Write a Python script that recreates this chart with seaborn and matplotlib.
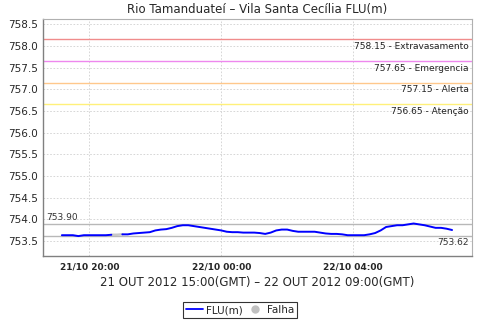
import matplotlib
matplotlib.use("Agg")
import matplotlib.pyplot as plt
import matplotlib.dates as mdates
import seaborn as sns
import pandas as pd
import numpy as np
from matplotlib.lines import Line2D

times = ["21/10 19:10", "21/10 19:20", "21/10 19:30", "21/10 19:40", "21/10 19:50",
         "21/10 20:00", "21/10 20:10", "21/10 20:20", "21/10 20:30", "21/10 20:40",
         "21/10 20:50", "21/10 21:00", "21/10 21:10", "21/10 21:20", "21/10 21:30",
         "21/10 21:40", "21/10 21:50", "21/10 22:00", "21/10 22:10", "21/10 22:20",
         "21/10 22:30", "21/10 22:40", "21/10 22:50", "21/10 23:00", "21/10 23:10",
         "21/10 23:20", "21/10 23:30", "21/10 23:40", "21/10 23:50", "22/10 00:00",
         "22/10 00:10", "22/10 00:20", "22/10 00:30", "22/10 00:40", "22/10 00:50",
         "22/10 01:00", "22/10 01:10", "22/10 01:20", "22/10 01:30", "22/10 01:40",
         "22/10 01:50", "22/10 02:00", "22/10 02:10", "22/10 02:20", "22/10 02:30",
         "22/10 02:40", "22/10 02:50", "22/10 03:00", "22/10 03:10", "22/10 03:20",
         "22/10 03:30", "22/10 03:40", "22/10 03:50", "22/10 04:00", "22/10 04:10",
         "22/10 04:20", "22/10 04:30", "22/10 04:40", "22/10 04:50", "22/10 05:00",
         "22/10 05:10", "22/10 05:20", "22/10 05:30", "22/10 05:40", "22/10 05:50",
         "22/10 06:00", "22/10 06:10", "22/10 06:20", "22/10 06:30", "22/10 06:40",
         "22/10 06:50", "22/10 07:00"]
flu = [753.63, 753.63, 753.63, 753.61, 753.63,
       753.63, 753.63, 753.63, 753.63, 753.64,
       753.64, 753.65, 753.65, 753.67, 753.68,
       753.69, 753.70, 753.74, 753.76, 753.77,
       753.80, 753.84, 753.86, 753.86, 753.84,
       753.82, 753.80, 753.78, 753.76, 753.74,
       753.71, 753.70, 753.70, 753.69, 753.69,
       753.69, 753.68, 753.66, 753.69, 753.74,
       753.76, 753.76, 753.73, 753.71, 753.71,
       753.71, 753.71, 753.69, 753.67, 753.66,
       753.66, 753.65, 753.63, 753.63, 753.63,
       753.63, 753.65, 753.68, 753.74, 753.82,
       753.84, 753.86, 753.86, 753.88, 753.90,
       753.88, 753.86, 753.83, 753.80, 753.80,
       753.78, 753.75]
falha_times = ["21/10 20:40", "21/10 20:50", "21/10 21:00"]

thresholds = [758.15, 757.65, 757.15, 756.65]
threshold_names = ["Extravasamento", "Emergencia", "Alerta", "Atenção"]
threshold_colors = ["#F08C8C", "#EE88EE", "#FFC88C", "#FFF07A"]
max_val = 753.90
min_val = 753.62

title = "Rio Tamanduateí – Vila Santa Cecília FLU(m)"
xlabel = "21 OUT 2012 15:00(GMT) – 22 OUT 2012 09:00(GMT)"
xticks = ["21/10 20:00", "22/10 00:00", "22/10 04:00"]
yticks = [753.5, 754.0, 754.5, 755.0, 755.5, 756.0, 756.5, 757.0, 757.5, 758.0, 758.5]

def parse(s):
    d, h = s.split(" ")
    day, mon = d.split("/")
    return pd.to_datetime(f"2012-{mon}-{day} {h}")

df = pd.DataFrame({"t": [parse(s) for s in times], "v": flu})
falha_set = [parse(s) for s in falha_times]
gap_start, gap_end = falha_set[0], falha_set[-1]
# blue segments: before the gap (up to gap_start) and after (from gap_end)
df_blue = pd.concat([
    df[df["t"] <= gap_start].assign(seg=0),
    df[df["t"] >= gap_end].assign(seg=1),
])
dff = df[df["t"].isin(falha_set)]

sns.set_theme(style="white")
plt.rcParams['font.family'] = ['DejaVu Sans']

fig = plt.figure(figsize=(4.8, 3.2), dpi=100)
ax = fig.add_axes([0.090, 0.200, 0.893, 0.7406])

ax.set_ylim(753.15, 758.62)
x0 = parse("21/10 18:36")
x1 = parse("22/10 07:36")
ax.set_xlim(x0, x1)

ax.set_yticks(yticks)
ax.set_yticklabels([f"{y:.1f}" for y in yticks], fontsize=7.5)
ax.set_xticks([parse(s) for s in xticks])
ax.xaxis.set_major_formatter(mdates.DateFormatter("%d/%m %H:%M"))

ax.grid(True, color="#d0d0d0", linestyle=(0, (2, 2)), linewidth=0.6)
ax.set_axisbelow(True)

for thr, name, col in zip(thresholds, threshold_names, threshold_colors):
    ax.axhline(thr, color=col, linewidth=1.0, zorder=2)
    ax.text(0.993, thr - 0.06, f"{thr:.2f} - {name}", transform=ax.get_yaxis_transform(),
            ha="right", va="top", fontsize=6.5, color="#222222")

ax.axhline(max_val, color="#b8b8b8", linewidth=1.0, zorder=2)
ax.axhline(min_val, color="#b8b8b8", linewidth=1.0, zorder=2)
ax.text(0.006, max_val + 0.04, f"{max_val:.2f}", transform=ax.get_yaxis_transform(),
        ha="left", va="bottom", fontsize=6.5, color="#333333")
ax.text(0.993, min_val - 0.06, f"{min_val:.2f}", transform=ax.get_yaxis_transform(),
        ha="right", va="top", fontsize=6.5, color="#333333")

sns.lineplot(data=dff, x="t", y="v", ax=ax, color="#c8c8c8", linewidth=1.8, zorder=3)
sns.lineplot(data=df_blue, x="t", y="v", units="seg", estimator=None, ax=ax,
             color="#0000ff", linewidth=1.4, zorder=4)

ax.set_xlabel(xlabel, fontsize=8.5, labelpad=3)
ax.set_ylabel("")
ax.set_title(title, fontsize=8.5, pad=4)

for lab in ax.get_xticklabels():
    lab.set_fontsize(6.5)
    lab.set_fontweight("bold")

for side in ["top", "right"]:
    ax.spines[side].set_color("#b0b0b0")
    ax.spines[side].set_linewidth(0.8)
for side in ["left", "bottom"]:
    ax.spines[side].set_color("#808080")
    ax.spines[side].set_linewidth(1.0)
ax.tick_params(axis="both", which="major", length=2, width=0.8, color="#808080", pad=2)
ax.tick_params(axis="y", labelsize=7.5)
ax.tick_params(axis="x", pad=3)

handles = [Line2D([0], [0], color="#0000ff", linewidth=1.3),
           Line2D([0], [0], marker="o", color="none", markerfacecolor="#c0c0c0",
                  markeredgecolor="#c0c0c0", markersize=5)]
leg = fig.legend(handles, ["FLU(m)", "Falha"], loc="center", bbox_to_anchor=(0.5, 0.031),
                 ncol=2, fontsize=7.5, frameon=True, fancybox=False, handlelength=1.6,
                 handletextpad=0.3, columnspacing=0.4, borderpad=0.3, borderaxespad=0)
leg.get_frame().set_edgecolor("black")
leg.get_frame().set_linewidth(0.8)

fig.savefig("out.png", dpi=100)
